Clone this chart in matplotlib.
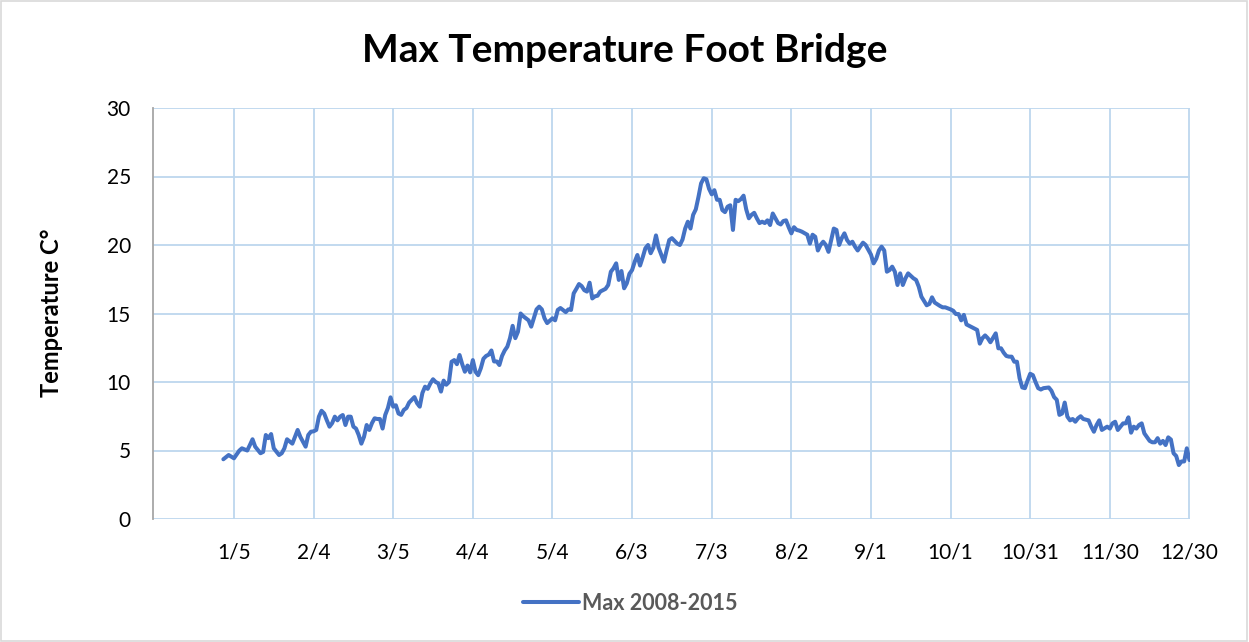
import matplotlib
matplotlib.use("Agg")
import matplotlib.pyplot as plt

# ------------------------------------------------
# Daily max temperature (day of year, 0 = Jan 1st)

day_index = [
    0, 2, 4, 6, 7, 9, 10, 11, 12, 14, 15, 16, 17, 18, 19, 21, 22, 23, 24, 26,
    28, 29, 31, 32, 33, 34, 35, 36, 37, 38, 39, 40, 41, 42, 43, 44, 45, 46, 47, 48,
    49, 50, 51, 52, 53, 54, 55, 56, 57, 58, 59, 60, 61, 62, 63, 64, 65, 66, 67, 68,
    69, 70, 71, 72, 73, 74, 75, 76, 77, 78, 79, 80, 81, 82, 83, 84, 85, 86, 87, 88,
    89, 90, 91, 92, 93, 94, 95, 96, 97, 98, 99, 100, 101, 102, 103, 104, 105, 106, 107, 108,
    109, 110, 111, 112, 113, 114, 115, 116, 118, 119, 120, 121, 122, 124, 125, 126, 127, 129, 130, 131,
    132, 133, 134, 135, 136, 137, 138, 139, 140, 141, 142, 144, 145, 146, 147, 148, 149, 150, 151, 152,
    153, 154, 155, 156, 157, 158, 159, 160, 161, 162, 163, 164, 165, 166, 167, 168, 169, 171, 172, 173,
    174, 175, 176, 177, 178, 179, 180, 181, 182, 183, 184, 185, 186, 187, 188, 189, 190, 191, 192, 193,
    194, 195, 196, 197, 198, 199, 200, 201, 202, 203, 204, 205, 206, 207, 208, 209, 210, 211, 212, 213,
    214, 215, 216, 217, 218, 220, 221, 222, 223, 224, 225, 226, 227, 228, 229, 230, 231, 232, 233, 234,
    235, 236, 237, 238, 239, 240, 241, 242, 244, 245, 246, 247, 248, 249, 250, 251, 252, 253, 254, 255,
    256, 257, 258, 260, 261, 262, 263, 265, 266, 267, 268, 270, 271, 272, 274, 275, 276, 277, 278, 279,
    280, 281, 282, 284, 285, 286, 287, 288, 289, 291, 292, 293, 294, 295, 296, 297, 298, 299, 300, 301,
    302, 303, 304, 305, 306, 307, 308, 309, 311, 312, 313, 314, 315, 316, 317, 318, 319, 320, 321, 322,
    323, 324, 326, 327, 328, 329, 330, 331, 333, 334, 335, 336, 337, 338, 339, 340, 341, 342, 343, 344,
    345, 346, 347, 349, 350, 351, 352, 353, 354, 355, 356, 357, 358, 359, 360, 361, 362, 363, 364,
]

max_temp = [
    4.36, 4.67, 4.43, 4.99, 5.16, 5.0, 5.4, 5.82, 5.28, 4.8, 4.9, 6.13, 5.9, 6.2, 5.16, 4.67, 4.8, 5.16, 5.82, 5.5,
    6.5, 6.0, 5.28, 6.13, 6.37, 6.4, 6.5, 7.47, 7.9, 7.7, 7.2, 6.74, 7.0, 7.47, 7.2, 7.47, 7.59, 6.86, 7.47, 7.47,
    6.74, 6.6, 6.13, 5.5, 6.0, 6.86, 6.5, 7.0, 7.35, 7.3, 7.3, 6.6, 7.6, 8.1, 8.88, 8.2, 8.3, 7.7, 7.6, 7.96,
    8.1, 8.5, 8.7, 8.9, 8.45, 8.2, 9.2, 9.66, 9.5, 9.9, 10.2, 10.0, 9.9, 9.3, 10.1, 9.8, 10.0, 11.48, 11.6, 11.3,
    11.97, 11.3, 10.75, 11.2, 10.7, 11.6, 10.75, 10.5, 11.0, 11.7, 11.9, 12.0, 12.3, 11.5, 11.5, 11.24, 11.9, 12.3, 12.58, 13.2,
    14.1, 13.2, 13.67, 15.0, 14.8, 14.65, 14.5, 14.04, 15.3, 15.5, 15.3, 14.65, 14.3, 14.65, 14.5, 15.26, 15.4, 15.1, 15.3, 15.26,
    16.47, 16.8, 17.15, 17.0, 16.7, 16.6, 17.25, 16.1, 16.25, 16.3, 16.6, 16.8, 17.08, 18.05, 18.3, 18.66, 17.45, 18.1, 16.84, 17.2,
    17.9, 18.17, 18.78, 19.27, 18.5, 19.1, 19.76, 20.0, 19.4, 19.8, 20.7, 19.8, 19.3, 18.78, 19.6, 20.36, 20.5, 20.1, 20.0, 20.4,
    21.2, 21.7, 21.2, 22.2, 22.6, 23.5, 24.5, 24.87, 24.8, 24.1, 23.7, 24.0, 23.3, 23.3, 22.55, 22.4, 22.8, 22.9, 21.1, 23.3,
    23.2, 23.35, 23.6, 22.6, 21.95, 22.2, 22.35, 21.95, 21.6, 21.7, 21.6, 21.8, 21.46, 22.3, 21.95, 21.6, 21.5, 21.75, 21.8, 21.3,
    20.85, 21.3, 21.1, 21.05, 20.97, 20.75, 20.1, 20.75, 20.6, 19.6, 20.0, 20.24, 20.0, 19.5, 20.36, 21.2, 21.1, 20.0, 20.5, 20.85,
    20.36, 20.1, 20.24, 19.88, 19.6, 19.9, 20.17, 20.0, 19.3, 18.66, 19.0, 19.6, 19.88, 19.6, 18.05, 18.17, 18.42, 18.05, 17.08, 17.93,
    17.08, 17.57, 17.93, 17.57, 17.45, 16.96, 16.23, 15.6, 15.7, 16.18, 15.8, 15.55, 15.45, 15.45, 15.3, 15.2, 14.96, 14.96, 14.5, 14.9,
    14.2, 14.1, 14.0, 13.8, 12.8, 13.2, 13.4, 13.2, 12.9, 13.55, 12.46, 12.46, 12.14, 11.9, 11.85, 11.85, 11.48, 11.48, 10.27, 9.6,
    9.55, 10.1, 10.6, 10.5, 10.0, 9.55, 9.45, 9.55, 9.6, 9.36, 8.9, 8.7, 7.6, 7.7, 8.5, 7.47, 7.2, 7.3, 7.1, 7.35,
    7.5, 7.3, 7.2, 6.74, 6.37, 6.86, 7.2, 6.5, 6.74, 6.6, 6.98, 7.1, 6.5, 6.74, 6.98, 6.98, 7.42, 6.3, 6.74, 6.6,
    6.86, 6.98, 6.25, 5.7, 5.6, 5.6, 5.9, 5.5, 5.7, 5.4, 5.96, 5.8, 4.8, 4.6, 3.94, 4.2, 4.2, 5.16, 4.3,
]

tick_days = [4, 34, 64, 94, 124, 154, 184, 214, 244, 274, 304, 334, 364]
tick_labels = ["1/5", "2/4", "3/5", "4/4", "5/4", "6/3", "7/3", "8/2", "9/1",
               "10/1", "10/31", "11/30", "12/30"]
y_ticks = [0, 5, 10, 15, 20, 25, 30]

# -------------------
# Set font parameters

plt.rcParams['font.family'] = ['Lato', 'DejaVu Sans']

fig = plt.figure(figsize=(12.49, 6.42), dpi=100)
ax = fig.add_axes([153 / 1249, 1 - 519 / 642, (1190 - 153) / 1249, (519 - 108) / 642])

# light grey frame around the whole chart
fig.patches.append(plt.Rectangle((0.001, 0.002), 0.997, 0.996, transform=fig.transFigure,
                                 fill=False, edgecolor="#D9D9D9", linewidth=1.2))

ax.plot(day_index, max_temp, color="#4472C4", linewidth=2.9,
        solid_joinstyle="round", solid_capstyle="round", label="Max 2008-2015", zorder=3)

ax.set_xlim(-26.5, 364.2)
ax.set_ylim(0, 30)
ax.set_xticks(tick_days)
ax.set_xticklabels(tick_labels)
ax.set_yticks(y_ticks)
ax.tick_params(length=0, labelsize=15, colors="#000000")
ax.tick_params(axis="x", pad=17)
ax.tick_params(axis="y", pad=16)

ax.grid(True, color="#BDD7EE", linewidth=1.3)
ax.set_axisbelow(True)

for spine in ['top', 'right', 'bottom']:
    ax.spines[spine].set_visible(False)
ax.spines['left'].set_color("#A6A6A6")
ax.spines['left'].set_linewidth(1.3)

fig.text(0.5, 1 - 50 / 642, "Max Temperature Foot Bridge", ha="center", va="center",
         fontsize=28, fontweight="bold")
fig.text(52 / 1249, 1 - 313 / 642, "Temperature C°", ha="center", va="center",
         rotation=90, fontsize=17, fontweight="bold")

leg = fig.legend(loc="center", bbox_to_anchor=(630 / 1249, 1 - 603 / 642), frameon=False,
                 handlelength=2.6, handletextpad=0.15, prop={"size": 15.5, "weight": "bold"})
for txt in leg.get_texts():
    txt.set_color("#595959")

fig.savefig("out.png", dpi=100)
